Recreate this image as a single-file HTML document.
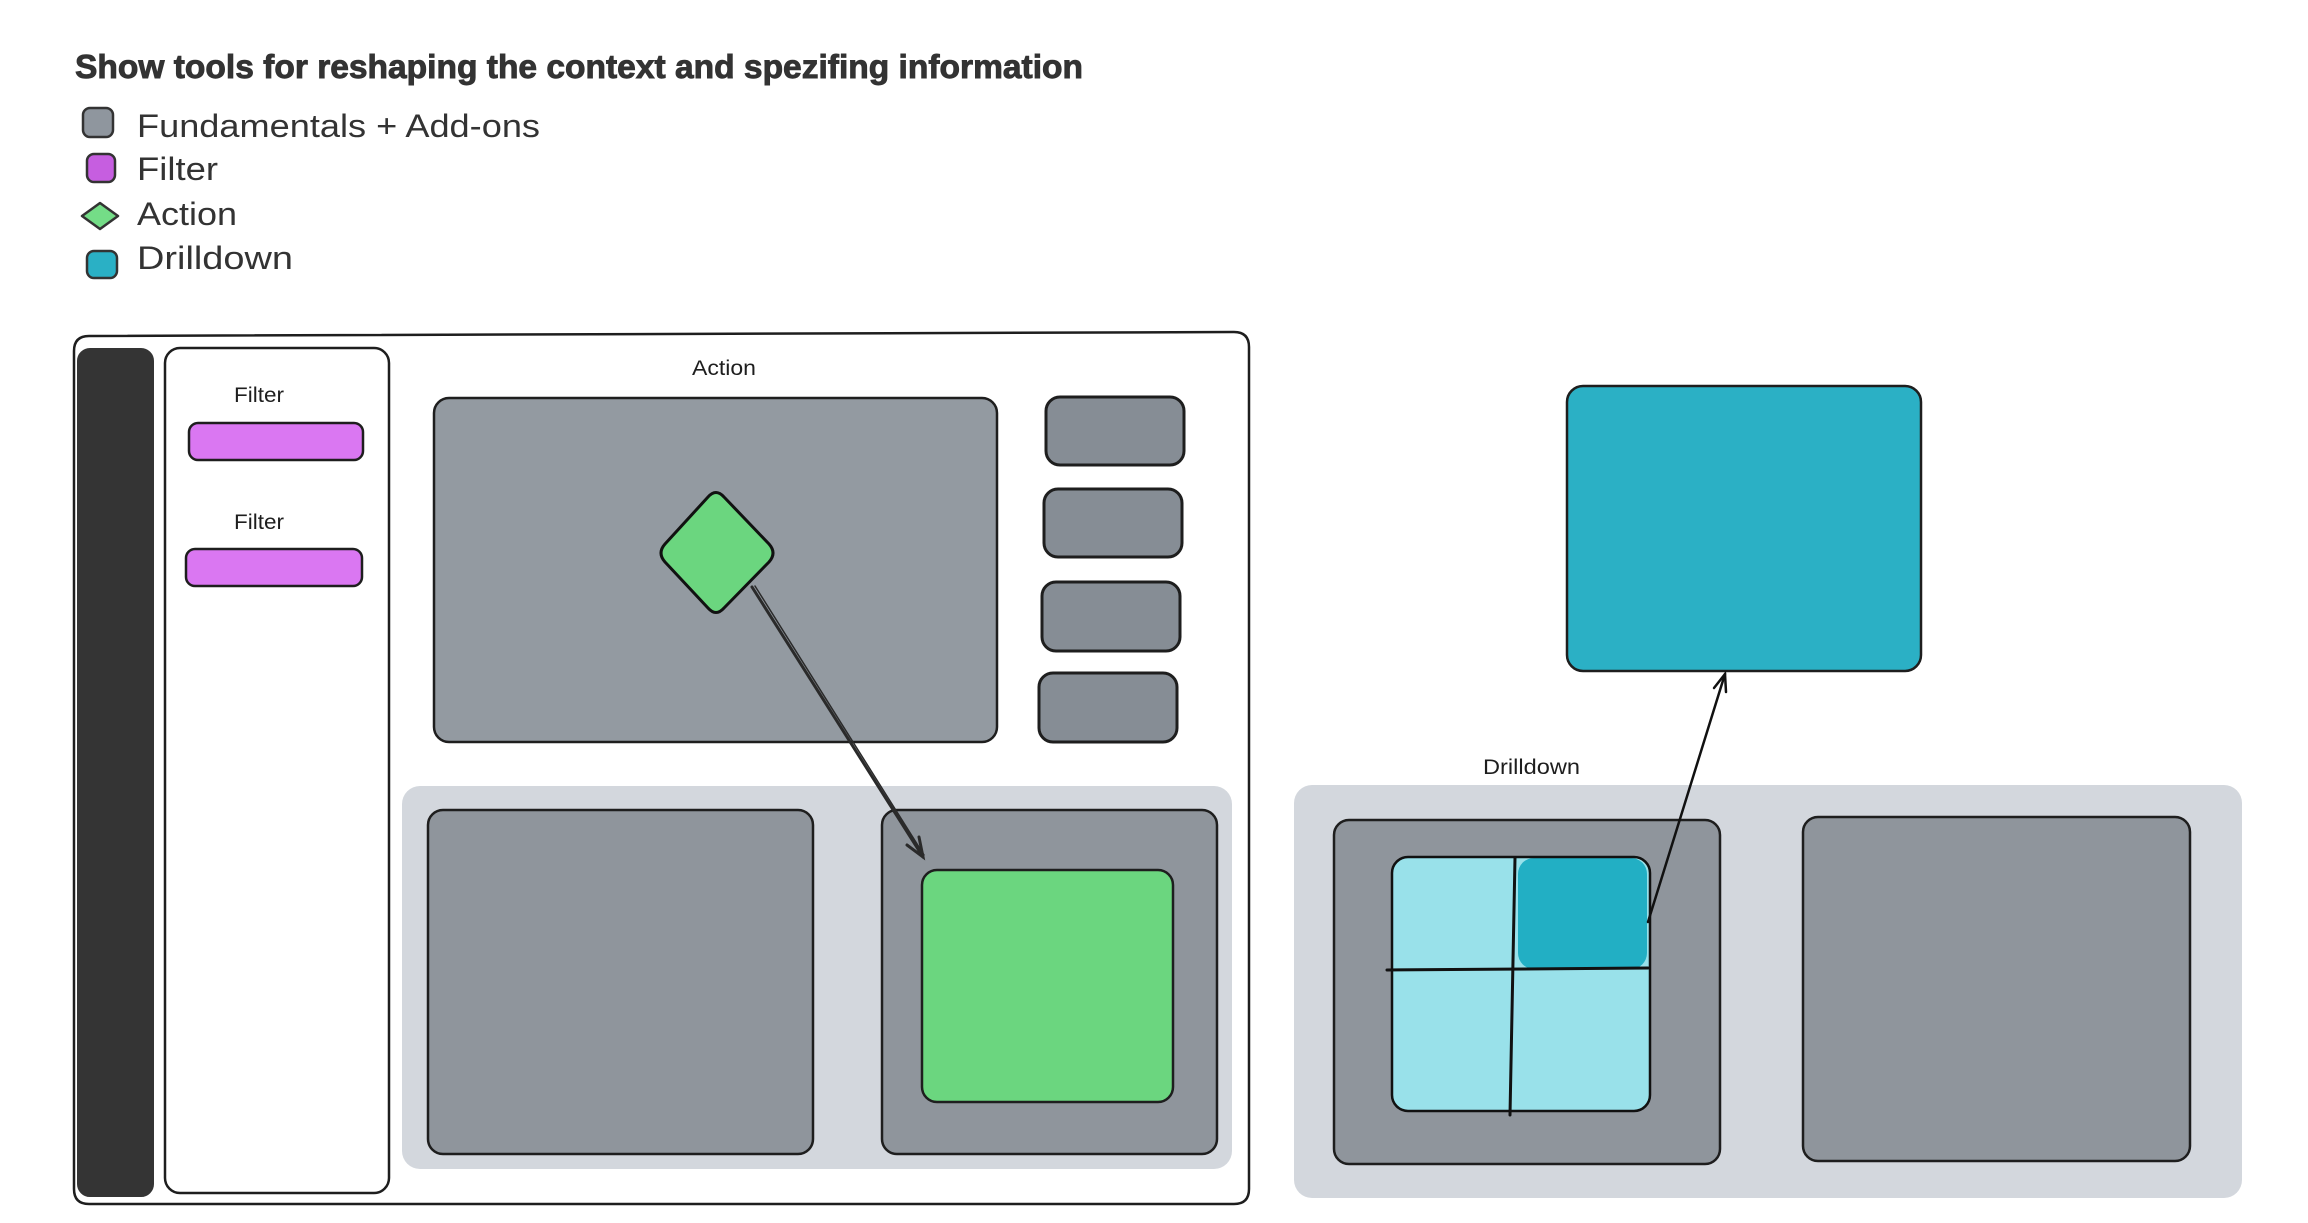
<!DOCTYPE html>
<html>
<head>
<meta charset="utf-8">
<style>
  html,body{margin:0;padding:0;background:#ffffff;}
  body{width:2308px;height:1223px;overflow:hidden;}
  svg{display:block;}
  .t{font-family:"Liberation Sans",sans-serif;}
</style>
</head>
<body>
<svg width="2308" height="1223" viewBox="0 0 2308 1223" xmlns="http://www.w3.org/2000/svg">
  <rect x="0" y="0" width="2308" height="1223" fill="#ffffff"/>

  <!-- Title -->
  <text class="t" x="75" y="78" font-size="33" font-weight="bold" fill="#333333" stroke="#333333" stroke-width="0.9" textLength="1008" lengthAdjust="spacingAndGlyphs">Show tools for reshaping the context and spezifing information</text>

  <!-- Legend -->
  <g stroke="#333333" stroke-width="2.5" stroke-linejoin="round">
    <rect x="83" y="108" width="30" height="29" rx="7" fill="#8f969e"/>
    <rect x="87" y="154" width="28" height="28" rx="7" fill="#c65ee0"/>
    <polygon points="82,216 100,203 118,216 100,229" fill="#74dd87"/>
    <rect x="87" y="251" width="30" height="27" rx="7" fill="#2ab0c5"/>
  </g>
  <g class="t" font-size="32" fill="#333333">
    <text x="137" y="137" textLength="403" lengthAdjust="spacingAndGlyphs">Fundamentals + Add-ons</text>
    <text x="137" y="180" textLength="81" lengthAdjust="spacingAndGlyphs">Filter</text>
    <text x="137" y="225" textLength="100" lengthAdjust="spacingAndGlyphs">Action</text>
    <text x="137" y="269" textLength="156" lengthAdjust="spacingAndGlyphs">Drilldown</text>
  </g>

  <!-- Main frame -->
  <path d="M 89,336 L 1234,332 Q 1249,332 1249,347 L 1249,1189 Q 1249,1204 1234,1204 L 89,1204 Q 74,1204 74,1189 L 74,351 Q 74,336 89,336 Z" fill="none" stroke="#1e1e1e" stroke-width="2.5"/>

  <!-- Sidebar -->
  <rect x="78" y="349" width="75" height="847" rx="12" fill="#343434" stroke="#343434" stroke-width="2"/>

  <!-- Filter panel -->
  <rect x="165" y="348" width="224" height="845" rx="15" fill="#ffffff" stroke="#1e1e1e" stroke-width="2.5"/>
  <g class="t" font-size="21" fill="#1e1e1e">
    <text x="234" y="402" textLength="50" lengthAdjust="spacingAndGlyphs">Filter</text>
    <text x="234" y="529" textLength="50" lengthAdjust="spacingAndGlyphs">Filter</text>
  </g>
  <rect x="189" y="423" width="174" height="37" rx="9" fill="#da77f2" stroke="#1e1e1e" stroke-width="2.5"/>
  <rect x="186" y="549" width="176" height="37" rx="9" fill="#da77f2" stroke="#1e1e1e" stroke-width="2.5"/>

  <!-- Action label -->
  <text class="t" x="692" y="375" font-size="21" fill="#1e1e1e" textLength="64" lengthAdjust="spacingAndGlyphs">Action</text>

  <!-- Top gray panel -->
  <rect x="434" y="398" width="563" height="344" rx="15" fill="#939aa1" stroke="#1e1e1e" stroke-width="2.5"/>

  <!-- Small right boxes -->
  <g fill="#868d95" stroke="#1e1e1e" stroke-width="3">
    <rect x="1046" y="397" width="138" height="68" rx="14"/>
    <rect x="1044" y="489" width="138" height="68" rx="14"/>
    <rect x="1042" y="582" width="138" height="69" rx="14"/>
    <rect x="1039" y="673" width="138" height="69" rx="14"/>
  </g>

  <!-- Bottom light panel (left) -->
  <rect x="402" y="786" width="830" height="383" rx="18" fill="#d3d7dd"/>
  <rect x="428" y="810" width="385" height="344" rx="15" fill="#8f959c" stroke="#1e1e1e" stroke-width="2.5"/>
  <rect x="882" y="810" width="335" height="344" rx="15" fill="#8f959c" stroke="#1e1e1e" stroke-width="2.5"/>
  <rect x="922" y="870" width="251" height="232" rx="15" fill="#6bd67f" stroke="#1e1e1e" stroke-width="2.5"/>

  <!-- Diamond -->
  <path d="M 665,544 L 708,497 Q 716,488 724,497 L 769,544 Q 777,553 769,562 L 724,608 Q 716,617 708,608 L 665,562 Q 657,553 665,544 Z" fill="#6bd67f" stroke="#111111" stroke-width="3" stroke-linejoin="round"/>

  <!-- Arrow 1 -->
  <g stroke="#2a2a2a" stroke-width="3" stroke-linecap="round" fill="none">
    <line x1="752" y1="587" x2="923" y2="857"/>
    <line x1="755" y1="586" x2="924" y2="855" stroke-width="1.5"/>
    <polyline points="907,845 923,857 919,837"/>
  </g>

  <!-- Drilldown label -->
  <text class="t" x="1483" y="774" font-size="21" fill="#1e1e1e" textLength="97" lengthAdjust="spacingAndGlyphs">Drilldown</text>

  <!-- Big teal box -->
  <rect x="1567" y="386" width="354" height="285" rx="16" fill="#2bb0c5" stroke="#1e1e1e" stroke-width="2.5"/>

  <!-- Bottom light panel (right) -->
  <rect x="1294" y="785" width="948" height="413" rx="18" fill="#d3d7dd"/>
  <rect x="1334" y="820" width="386" height="344" rx="15" fill="#8f959c" stroke="#1e1e1e" stroke-width="2.5"/>
  <rect x="1803" y="817" width="387" height="344" rx="15" fill="#8f959c" stroke="#1e1e1e" stroke-width="2.5"/>

  <!-- Cyan grid -->
  <rect x="1392" y="857" width="258" height="254" rx="16" fill="#99e1ea"/>
  <rect x="1518" y="858" width="129" height="111" rx="16" fill="#22afc4"/>
  <rect x="1392" y="857" width="258" height="254" rx="16" fill="none" stroke="#111111" stroke-width="2.5"/>
  <g stroke="#111111" stroke-width="3" stroke-linecap="round">
    <line x1="1387" y1="970" x2="1648" y2="968"/>
    <line x1="1515" y1="858" x2="1510" y2="1115"/>
  </g>

  <!-- Arrow 2 -->
  <g stroke="#111111" stroke-width="2.5" stroke-linecap="round" fill="none">
    <line x1="1648" y1="922" x2="1725" y2="674"/>
    <polyline points="1714,688 1725,674 1726,692"/>
  </g>
</svg>
</body>
</html>
